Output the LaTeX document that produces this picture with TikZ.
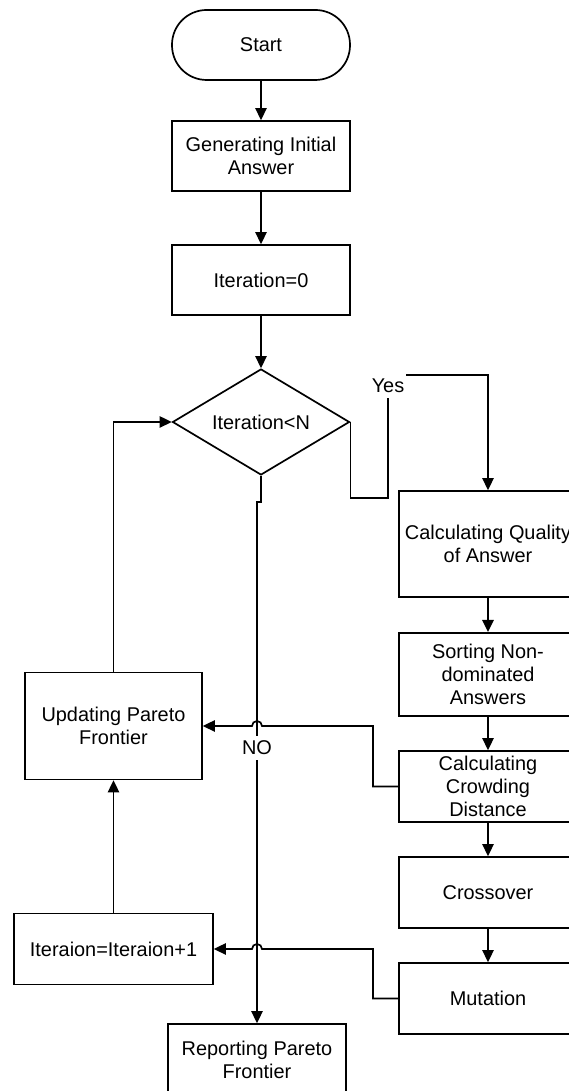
\documentclass[tikz,border=0pt]{standalone}
\usepackage{fontspec}
\setmainfont{Liberation Sans}
\usetikzlibrary{arrows.meta,positioning,shapes.geometric}

\begin{document}
\begin{tikzpicture}[x=1cm,y=1cm,line join=miter,
    font=\fontsize{17}{19.6}\selectfont,
    box/.style={draw,line width=1.45pt,align=center,inner sep=2pt,
      minimum width=5.34cm,minimum height=2.13cm},
    flow/.style={line width=1.45pt,-{Triangle[length=0.36cm,width=0.34cm]}},
    tag/.style={fill=white,inner xsep=1.5pt,inner ysep=0pt,minimum height=0.72cm}]
  \path[use as bounding box] (0,0) rectangle (17.07,32.73);
  \clip (0,0) rectangle (17.07,32.73);

  % Main column down to the test.
  \node[box,rounded corners=1.04cm,minimum height=2.1cm] (start) at (7.83,31.38) {Start};
  \node[box,minimum height=2.1cm] (gen) at (7.83,28.05) {Generating Initial\\Answer};
  \node[box,minimum height=2.1cm] (init) at (7.83,24.33) {Iteration=0};
  \node[draw,diamond,line width=1.45pt,inner sep=0pt,aspect=1.67,
        minimum width=5.31cm,minimum height=3.18cm] (test) at (7.83,20.07) {Iteration<N};

  % Right column: one generation.
  \node[box,minimum height=3.18cm] (calcq) at (14.64,16.41) {Calculating Quality\\of Answer};
  \node[box,minimum height=2.49cm] (sort) at (14.64,12.50) {Sorting Non-\\dominated\\Answers};
  \node[box] (crowd) at (14.64,9.135) {Calculating\\Crowding\\Distance};
  \node[box] (cross) at (14.64,5.955) {Crossover};
  \node[box] (mut) at (14.64,2.775) {Mutation};

  % Left column and the exit.
  \node[box,minimum width=5.31cm,minimum height=3.21cm] (upd) at (3.405,10.95) {Updating Pareto\\Frontier};
  \node[box,minimum width=5.97cm] (incr) at (3.405,4.26) {Iteraion=Iteraion+1};
  \node[box] (report) at (7.71,0.945) {Reporting Pareto\\Frontier};

  \draw[flow] (start) -- (gen);
  \draw[flow] (gen) -- (init);
  \draw[flow] (init) -- (test);

  % Yes branch, routed down and back up.
  \coordinate (yesA) at (11.64,17.79);
  \coordinate (yesB) at (11.64,21.48);
  \draw[flow] (test.east) |- (yesA) -- (yesB) -| (calcq.north);
  \node[tag] (yes) at (11.64,21.15) {Yes};

  % NO branch with its small jog.
  \coordinate (noA) at (7.83,17.67);
  \draw[flow] (test.south) -- (noA) -- ++(-0.12,0) -- (report.north);
  \node[tag] (no) at (7.71,10.29) {NO};

  \foreach \a/\b in {calcq/sort,sort/crowd,crowd/cross,cross/mut}
    \draw[flow] (\a) -- (\b);

  % Returns to the left column hop over the NO line.
  \coordinate (crA) at (11.19,10.95);
  \draw[flow] (crowd.west) -| (crA) -- (7.86,10.95)
    arc[start angle=0,end angle=180,radius=0.15] -- (upd.east);
  \coordinate (muA) at (11.19,4.26);
  \draw[flow] (mut.west) -| (muA) -- (7.86,4.26)
    arc[start angle=0,end angle=180,radius=0.15] -- (incr.east);

  \draw[flow] (incr) -- (upd);
  \draw[flow] (upd.north) |- (test.west);
\end{tikzpicture}
\end{document}
